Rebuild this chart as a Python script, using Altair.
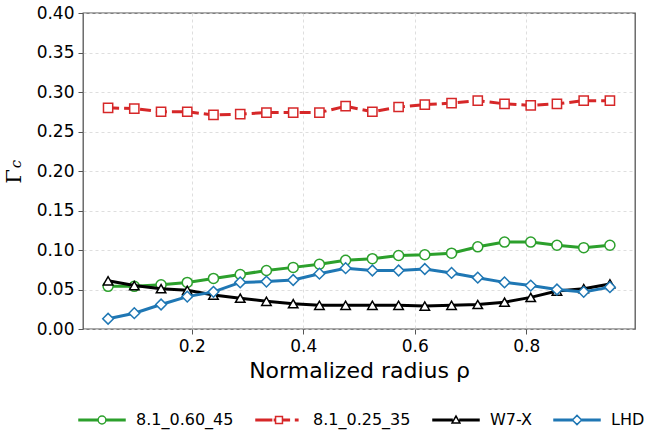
import altair as alt
import pandas as pd

rho = [0.050, 0.097, 0.145, 0.192, 0.239, 0.287, 0.334, 0.382, 0.429, 0.476,
       0.524, 0.571, 0.618, 0.666, 0.713, 0.761, 0.808, 0.855, 0.903, 0.950]

series = ["8.1_0.60_45", "8.1_0.25_35", "W7-X", "LHD"]

gamma_060_45 = [0.054, 0.054, 0.056, 0.059, 0.064, 0.069, 0.074, 0.078, 0.082, 0.087,
                0.089, 0.093, 0.094, 0.096, 0.104, 0.110, 0.110, 0.106, 0.103, 0.106]
gamma_025_35 = [0.280, 0.279, 0.275, 0.275, 0.271, 0.272, 0.274, 0.274, 0.274, 0.282,
                0.275, 0.281, 0.284, 0.286, 0.289, 0.285, 0.283, 0.285, 0.289, 0.289]
gamma_w7x = [0.061, 0.055, 0.051, 0.049, 0.043, 0.039, 0.035, 0.032, 0.030, 0.030,
             0.030, 0.030, 0.029, 0.030, 0.031, 0.034, 0.040, 0.048, 0.051, 0.057]
gamma_lhd = [0.013, 0.020, 0.031, 0.041, 0.047, 0.059, 0.060, 0.062, 0.070, 0.077,
             0.074, 0.074, 0.076, 0.071, 0.065, 0.059, 0.055, 0.050, 0.047, 0.053]

colors = ["#2ca02c", "#d62728", "#000000", "#1f77b4"]
shapes = ["circle", "square", "triangle-up", "diamond"]
sizes = [100, 85, 90, 115]

y_ticks = [0.0, 0.05, 0.10, 0.15, 0.20, 0.25, 0.30, 0.35, 0.40]
x_ticks = [0.2, 0.4, 0.6, 0.8]

rows = []
for name, vals in zip(series, [gamma_060_45, gamma_025_35, gamma_w7x, gamma_lhd]):
    for r, v in zip(rho, vals):
        rows.append({"rho": r, "gamma": v, "series": name})
df = pd.DataFrame(rows)

# legend glyphs: line + open marker (unit box -1..1)
h = 0.033
def seg(a, b):
    return f"M{a},{-h}L{b},{-h}L{b},{h}L{a},{h}Z"

m = 0.17
legend_paths = {
    "8.1_0.60_45": seg(-1, -m) + seg(m, 1) +
        f"M{-m},0A{m},{m},0,1,1,{m},0A{m},{m},0,1,1,{-m},0Z",
    "8.1_0.25_35": seg(-1, -0.32) + seg(-0.2, -0.15) + seg(0.15, 0.45) + seg(0.72, 0.82) +
        "M-0.15,-0.15L0.15,-0.15L0.15,0.15L-0.15,0.15Z",
    "W7-X": seg(-1, -0.17) + seg(0.17, 1) + "M-0.17,0.13L0,-0.17L0.17,0.13Z",
    "LHD": seg(-1, -0.2) + seg(0.2, 1) + "M-0.2,0L0,-0.2L0.2,0L0,0.2Z",
}
shape_expr = "".join(f"datum.value === '{k}' ? '{v}' : " for k, v in legend_paths.items()) + "'circle'"

legend = alt.Legend(
    title=None, orient="none", legendX=-5, legendY=383, direction="horizontal",
    columns=4, symbolSize=2116, symbolStrokeWidth=1.5, symbolType={"expr": shape_expr},
    symbolFillColor="white", symbolOpacity=1,
    labelFontSize=16, labelFont="DejaVu Sans", labelColor="#000", labelOffset=10,
    columnPadding=19, padding=0,
)

color_scale = alt.Scale(domain=series, range=colors)

x_enc = alt.X("rho:Q", scale=alt.Scale(domain=[0.005, 0.995], nice=False, zero=False),
              axis=alt.Axis(title="Normalized radius ρ", values=x_ticks, format=".1f",
                            titleFontSize=22, titlePadding=6))
y_enc = alt.Y("gamma:Q", scale=alt.Scale(domain=[0, 0.4], nice=False),
              axis=alt.Axis(title="Γ", values=y_ticks, format=".2f",
                            titleFont="DejaVu Serif", titleFontSize=21, titleAngle=270,
                            titleX=-69, titleY=163, titleAlign="center",
                            titleBaseline="middle"))

layers = []
for i, s in enumerate(series):
    base = alt.Chart(df).transform_filter(alt.datum.series == s)
    line_kwargs = dict(strokeWidth=3)
    if s == "8.1_0.25_35":
        line_kwargs["strokeDash"] = [11, 5]
    line = base.mark_line(**line_kwargs).encode(
        x=x_enc, y=y_enc, color=alt.Color("series:N", scale=color_scale, legend=legend))
    pts = base.mark_point(shape=shapes[i], size=sizes[i], filled=False, fill="white",
                          fillOpacity=1, opacity=1, strokeWidth=1.5).encode(
        x=x_enc, y=y_enc, color=alt.Color("series:N", scale=color_scale, legend=legend))
    layers += [line, pts]

sub_c = alt.Chart(pd.DataFrame({"t": ["c"]})).mark_text(
    text="c", angle=270, font="DejaVu Serif", fontStyle="italic", fontSize=15,
    color="#000").encode(x=alt.value(-67), y=alt.value(151))
layers.append(sub_c)

chart = alt.layer(*layers).properties(
    width=552, height=316,
    background="white",
    autosize=alt.AutoSizeParams(type="none"),
    padding={"left": 83, "top": 13, "right": 10, "bottom": 107},
).configure_view(stroke="#555", strokeWidth=1.3).configure_axis(
    domain=False, grid=True, gridColor="#d6d6d6", gridDash=[3, 3], gridWidth=0.8,
    tickColor="#555", tickSize=5, tickWidth=1,
    labelFont="DejaVu Sans", labelFontSize=17, labelColor="#000", labelPadding=4,
    titleFont="DejaVu Sans", titleColor="#000", titleFontWeight="normal",
)

chart.save("out.html", embed_options={"renderer": "svg", "actions": False})
